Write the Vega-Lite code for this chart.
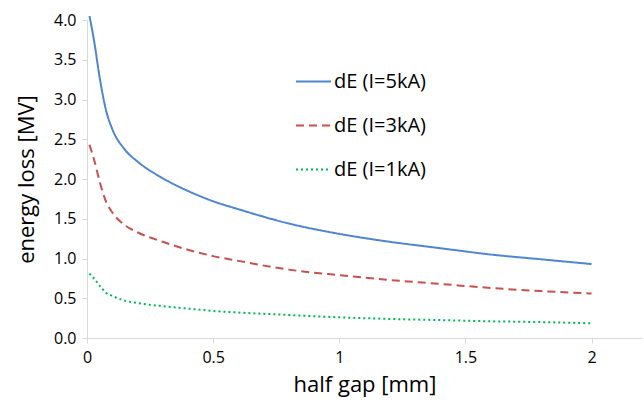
{
  "$schema": "https://vega.github.io/schema/vega-lite/v6.json",
  "autosize": "none",
  "padding": {"left": 87, "top": 20, "right": 2, "bottom": 63},
  "width": 555,
  "height": 318,
  "background": "white",
  "config": {
    "view": {"stroke": null},
    "font": "Open Sans"
  },
  "data": {
    "values": [
      {"gap": 0.01, "dE": 4.05, "s": "dE (I=5kA)"},
      {"gap": 0.03, "dE": 3.70, "s": "dE (I=5kA)"},
      {"gap": 0.05, "dE": 3.28, "s": "dE (I=5kA)"},
      {"gap": 0.075, "dE": 2.87, "s": "dE (I=5kA)"},
      {"gap": 0.1, "dE": 2.63, "s": "dE (I=5kA)"},
      {"gap": 0.15, "dE": 2.37, "s": "dE (I=5kA)"},
      {"gap": 0.2, "dE": 2.22, "s": "dE (I=5kA)"},
      {"gap": 0.3, "dE": 2.01, "s": "dE (I=5kA)"},
      {"gap": 0.4, "dE": 1.85, "s": "dE (I=5kA)"},
      {"gap": 0.5, "dE": 1.72, "s": "dE (I=5kA)"},
      {"gap": 0.6, "dE": 1.62, "s": "dE (I=5kA)"},
      {"gap": 0.8, "dE": 1.44, "s": "dE (I=5kA)"},
      {"gap": 1.0, "dE": 1.31, "s": "dE (I=5kA)"},
      {"gap": 1.2, "dE": 1.21, "s": "dE (I=5kA)"},
      {"gap": 1.4, "dE": 1.13, "s": "dE (I=5kA)"},
      {"gap": 1.6, "dE": 1.05, "s": "dE (I=5kA)"},
      {"gap": 1.8, "dE": 0.99, "s": "dE (I=5kA)"},
      {"gap": 2.0, "dE": 0.93, "s": "dE (I=5kA)"},
      {"gap": 0.01, "dE": 2.43, "s": "dE (I=3kA)"},
      {"gap": 0.03, "dE": 2.22, "s": "dE (I=3kA)"},
      {"gap": 0.05, "dE": 1.97, "s": "dE (I=3kA)"},
      {"gap": 0.075, "dE": 1.72, "s": "dE (I=3kA)"},
      {"gap": 0.1, "dE": 1.58, "s": "dE (I=3kA)"},
      {"gap": 0.15, "dE": 1.42, "s": "dE (I=3kA)"},
      {"gap": 0.2, "dE": 1.33, "s": "dE (I=3kA)"},
      {"gap": 0.3, "dE": 1.21, "s": "dE (I=3kA)"},
      {"gap": 0.4, "dE": 1.11, "s": "dE (I=3kA)"},
      {"gap": 0.5, "dE": 1.03, "s": "dE (I=3kA)"},
      {"gap": 0.6, "dE": 0.97, "s": "dE (I=3kA)"},
      {"gap": 0.8, "dE": 0.86, "s": "dE (I=3kA)"},
      {"gap": 1.0, "dE": 0.79, "s": "dE (I=3kA)"},
      {"gap": 1.2, "dE": 0.73, "s": "dE (I=3kA)"},
      {"gap": 1.4, "dE": 0.68, "s": "dE (I=3kA)"},
      {"gap": 1.6, "dE": 0.63, "s": "dE (I=3kA)"},
      {"gap": 1.8, "dE": 0.59, "s": "dE (I=3kA)"},
      {"gap": 2.0, "dE": 0.56, "s": "dE (I=3kA)"},
      {"gap": 0.01, "dE": 0.81, "s": "dE (I=1kA)"},
      {"gap": 0.03, "dE": 0.74, "s": "dE (I=1kA)"},
      {"gap": 0.05, "dE": 0.66, "s": "dE (I=1kA)"},
      {"gap": 0.075, "dE": 0.57, "s": "dE (I=1kA)"},
      {"gap": 0.1, "dE": 0.53, "s": "dE (I=1kA)"},
      {"gap": 0.15, "dE": 0.47, "s": "dE (I=1kA)"},
      {"gap": 0.2, "dE": 0.44, "s": "dE (I=1kA)"},
      {"gap": 0.3, "dE": 0.40, "s": "dE (I=1kA)"},
      {"gap": 0.4, "dE": 0.37, "s": "dE (I=1kA)"},
      {"gap": 0.5, "dE": 0.34, "s": "dE (I=1kA)"},
      {"gap": 0.6, "dE": 0.32, "s": "dE (I=1kA)"},
      {"gap": 0.8, "dE": 0.29, "s": "dE (I=1kA)"},
      {"gap": 1.0, "dE": 0.26, "s": "dE (I=1kA)"},
      {"gap": 1.2, "dE": 0.24, "s": "dE (I=1kA)"},
      {"gap": 1.4, "dE": 0.225, "s": "dE (I=1kA)"},
      {"gap": 1.6, "dE": 0.21, "s": "dE (I=1kA)"},
      {"gap": 1.8, "dE": 0.20, "s": "dE (I=1kA)"},
      {"gap": 2.0, "dE": 0.185, "s": "dE (I=1kA)"}
    ]
  },
  "mark": {"type": "line", "strokeWidth": 2, "interpolate": "monotone", "strokeCap": "butt"},
  "encoding": {
    "x": {
      "field": "gap", "type": "quantitative",
      "scale": {"domain": [0, 2.2], "nice": false, "zero": true},
      "axis": {
        "values": [0, 0.5, 1, 1.5, 2],
        "format": "~g",
        "title": "half gap [mm]",
        "titleFontSize": 22, "titleFontWeight": "normal", "titleColor": "#000",
        "titlePadding": 9,
        "labelFontSize": 16, "labelColor": "#000", "labelPadding": 6,
        "domainColor": "#D9D9D9", "tickColor": "#D9D9D9", "tickSize": 5,
        "grid": false, "labelFlush": false
      }
    },
    "y": {
      "field": "dE", "type": "quantitative",
      "scale": {"domain": [0, 4.0], "nice": false},
      "axis": {
        "values": [0, 0.5, 1, 1.5, 2, 2.5, 3, 3.5, 4],
        "format": ".1f",
        "title": "energy loss [MV]",
        "titleFontSize": 22, "titleFontWeight": "normal", "titleColor": "#000",
        "titlePadding": 15,
        "labelFontSize": 16, "labelColor": "#000", "labelPadding": 6,
        "domainColor": "#D9D9D9", "tickColor": "#D9D9D9", "tickSize": 5,
        "grid": false
      }
    },
    "color": {
      "field": "s", "type": "nominal",
      "scale": {"domain": ["dE (I=5kA)", "dE (I=3kA)", "dE (I=1kA)"], "range": ["#4F86CF", "#C8504F", "#00B852"]},
      "legend": {
        "title": null, "orient": "none", "legendX": 208, "legendY": 43,
        "symbolType": "stroke", "symbolSize": 1225, "symbolStrokeWidth": 2,
        "labelFontSize": 20, "labelColor": "#000", "labelOffset": 2,
        "rowPadding": 15
      }
    },
    "strokeDash": {
      "field": "s", "type": "nominal",
      "scale": {"domain": ["dE (I=5kA)", "dE (I=3kA)", "dE (I=1kA)"], "range": [[1, 0], [8, 5], [2, 3]]},
      "legend": null
    }
  }
}
